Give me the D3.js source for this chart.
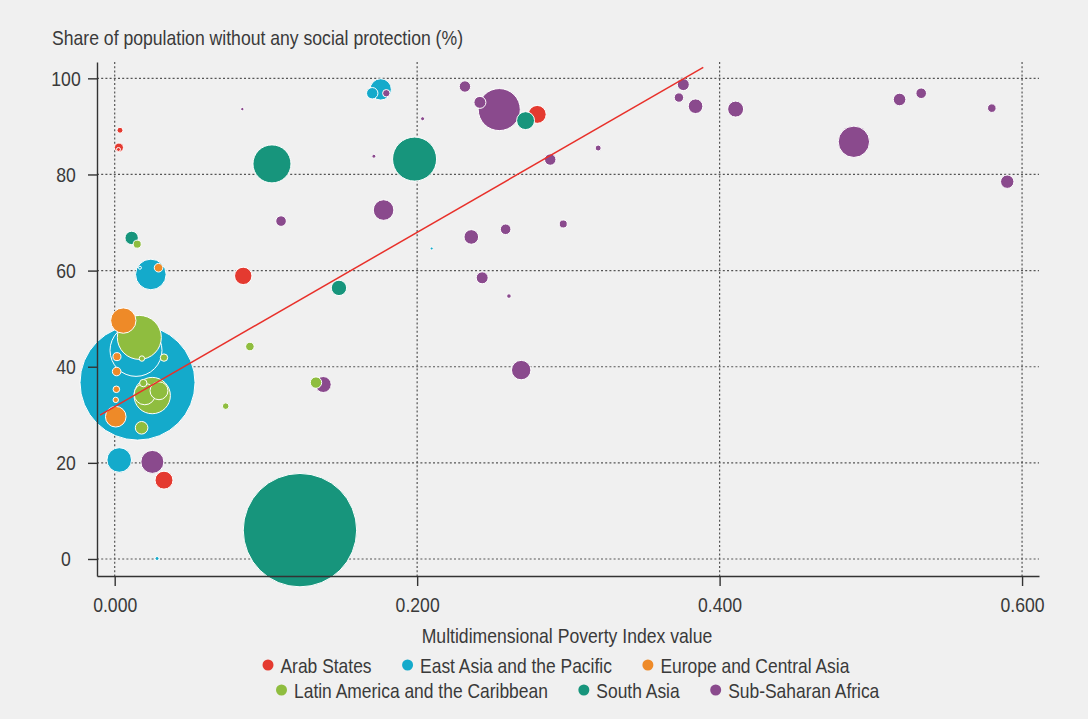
<!DOCTYPE html>
<html>
<head>
<meta charset="utf-8">
<script src="https://cdn.jsdelivr.net/npm/d3@7"></script>
<style>
  html, body { margin: 0; padding: 0; background: #f0f0f0; }
  svg { display: block; }
  text { font-family: "Liberation Sans", Arial, sans-serif; fill: #3a3a3a; }
</style>
</head>
<body>
<svg id="chart" width="1088" height="719"></svg>
<script>
// Each country: [MPI value, share without any social protection (%), population (millions)]
const arabStates = [
  [0.0035, 89.2, 3.8], [0.0028, 85.6, 8.6], [0.0025, 85.2, 1.7],
  [0.085, 58.9, 32], [0.2794, 92.5, 34], [0.0326, 16.4, 34]
];
const eastAsiaPacific = [
  [0.0151, 36.7, 1400], [0.0141, 43.4, 286], [0.0239, 59.2, 99],
  [0.0167, 60.6, 0.95], [0.003, 20.6, 64], [0.1759, 97.7, 48],
  [0.1703, 96.9, 13.8], [0.028, 0.1, 1.7], [0.2096, 64.6, 0.95]
];
const europeCentralAsia = [
  [0.0057, 49.6, 68], [0.029, 60.6, 7.8], [0.0015, 42.1, 6.8],
  [0.0013, 39.0, 7.8], [0.0011, 35.3, 4.6], [0.0007, 33.1, 3.1],
  [0.0007, 29.6, 45]
];
const latinAmericaCaribbean = [
  [0.0163, 46.1, 205], [0.018, 41.7, 3.1], [0.0326, 41.9, 5.8],
  [0.0248, 34.0, 140], [0.0199, 34.3, 48], [0.0293, 35.0, 34],
  [0.0189, 36.6, 5.8], [0.0178, 27.3, 16.8], [0.0149, 65.5, 6.8],
  [0.0894, 44.2, 7.8], [0.0734, 31.8, 4.6], [0.1331, 36.7, 13.8]
];
const southAsia = [
  [0.1225, 6.0, 1361], [0.104, 82.2, 153], [0.1983, 83.2, 205],
  [0.1483, 56.4, 25], [0.2717, 91.2, 34], [0.0112, 66.8, 19]
];
const subSaharanAfrica = [
  [0.2543, 93.5, 187], [0.2415, 95.0, 15.2], [0.2316, 98.3, 13.8],
  [0.2036, 91.6, 1.7], [0.288, 83.1, 13.8], [0.3197, 85.5, 3.8],
  [0.2966, 69.7, 6.8], [0.2585, 68.6, 11.9], [0.2358, 67.0, 22.6],
  [0.243, 58.5, 15.2], [0.2607, 54.7, 2.2], [0.2688, 39.3, 40],
  [0.1778, 72.6, 45], [0.110, 70.3, 11.9], [0.1714, 83.8, 1.7],
  [0.0844, 93.6, 1.2], [0.1796, 96.9, 5.8], [0.0249, 20.2, 56],
  [0.1379, 36.3, 27], [0.376, 98.7, 15.2], [0.3731, 96.0, 9.4],
  [0.3841, 94.2, 22.6], [0.4106, 93.6, 27], [0.4888, 86.8, 104],
  [0.519, 95.6, 16.8], [0.5333, 96.9, 11.9], [0.58, 93.8, 7.8],
  [0.5902, 78.5, 19]
];

const regionNames = [
  "Arab States", "East Asia and the Pacific", "Europe and Central Asia",
  "Latin America and the Caribbean", "South Asia", "Sub-Saharan Africa"
];
const regionColors = ["#e43a30", "#14aacb", "#ee8a28", "#8fbd3f", "#17957c", "#8a4a8d"];
const regionData = [arabStates, eastAsiaPacific, europeCentralAsia,
                    latinAmericaCaribbean, southAsia, subSaharanAfrica];

const xTicks = [0, 0.2, 0.4, 0.6];
const yTicks = [0, 20, 40, 60, 80, 100];

// Linear fit of share on MPI, drawn over its fitted span
const fitIntercept = 31.7;
const fitSlope = 181.3;
const fitSpan = [-0.0097, 0.3892];

const svg = d3.select("#chart");
const plot = { left: 97, right: 1039, top: 62, bottom: 576 };
const fontSize = 21;
const yTitle = "Share of population without any social protection (%)";
const yTitleWidth = 411;   // the narrow face is emulated by compressing glyphs

const x = d3.scaleLinear().domain([-0.0117, 0.6112]).range([plot.left, plot.right]);
const y = d3.scaleLinear().domain([-3.54, 103.4]).range([plot.bottom, plot.top]);
const r = d3.scaleSqrt().domain([0, 1400]).range([0, 57.5]);

// Dotted grid
const grid = svg.append("g").attr("stroke", "#555").attr("stroke-width", 1.2)
  .attr("stroke-dasharray", "2,2.2");
grid.selectAll("line.h").data(yTicks).join("line").attr("class", "h")
  .attr("x1", plot.left).attr("x2", plot.right)
  .attr("y1", d => y(d)).attr("y2", d => y(d));
grid.selectAll("line.v").data(xTicks).join("line").attr("class", "v")
  .attr("y1", plot.top).attr("y2", plot.bottom)
  .attr("x1", d => x(d)).attr("x2", d => x(d));

// Bubbles, largest first so small ones stay visible
const points = [];
regionData.forEach((arr, i) => arr.forEach(d => points.push({mpi: d[0], share: d[1], pop: d[2], region: i})));
points.sort((a, b) => b.pop - a.pop);

svg.append("g").selectAll("circle").data(points).join("circle")
  .attr("cx", d => x(d.mpi))
  .attr("cy", d => y(d.share))
  .attr("r", d => r(d.pop))
  .attr("fill", d => regionColors[d.region])
  .attr("stroke", "#fff")
  .attr("stroke-width", 1);

// Y title first, to derive the horizontal compression for all text
const title = svg.append("text").attr("x", 52).attr("y", 45).attr("font-size", fontSize).text(yTitle);
const squeeze = yTitleWidth / title.node().getComputedTextLength();
function condense(sel, extra = 1) {
  sel.each(function () {
    const w = this.getComputedTextLength();
    d3.select(this).attr("textLength", w * squeeze * extra).attr("lengthAdjust", "spacingAndGlyphs");
  });
}
condense(title);

// Axes
const xAxis = d3.axisBottom(x).tickValues(xTicks).tickFormat(d3.format(".3f"))
  .tickSizeInner(10).tickSizeOuter(0).tickPadding(11);
const gx = svg.append("g").attr("transform", `translate(0,${plot.bottom})`).call(xAxis);
gx.select(".domain").attr("stroke", "#333").attr("stroke-width", 1.4);
gx.selectAll(".tick line").attr("stroke", "#333").attr("stroke-width", 1.4);
gx.selectAll(".tick text").attr("font-size", fontSize).attr("fill", "#3a3a3a")
  .call(condense);

const yAxis = d3.axisLeft(y).tickValues(yTicks).tickSizeInner(9).tickSizeOuter(0).tickPadding(4);
const gy = svg.append("g").attr("transform", `translate(${plot.left},0)`).call(yAxis);
gy.select(".domain").attr("stroke", "#333").attr("stroke-width", 1.4);
gy.selectAll(".tick line").attr("stroke", "#333").attr("stroke-width", 1.4);
gy.selectAll(".tick text").attr("font-size", fontSize).attr("fill", "#3a3a3a")
  .attr("text-anchor", "middle").attr("x", -31).call(condense);
gx.attr("font-family", null);
gy.attr("font-family", null);

// Regression line
svg.append("line")
  .attr("x1", x(fitSpan[0])).attr("y1", y(fitIntercept + fitSlope * fitSpan[0]))
  .attr("x2", x(fitSpan[1])).attr("y2", y(fitIntercept + fitSlope * fitSpan[1]))
  .attr("stroke", "#e8302a").attr("stroke-width", 1.5);

// X title
svg.append("text").attr("x", 567).attr("y", 643).attr("font-size", fontSize)
  .attr("text-anchor", "middle").text("Multidimensional Poverty Index value").call(condense);

// Legend in two rows
const legendRows = [[0, 1, 2], [3, 4, 5]];
const rowStart = [268, 281.5];
const rowY = [665, 690];
legendRows.forEach((row, ri) => {
  let cx = rowStart[ri];
  row.forEach(idx => {
    const g = svg.append("g");
    g.append("circle").attr("cx", cx).attr("cy", rowY[ri]).attr("r", 5.5)
      .attr("fill", regionColors[idx]);
    const t = g.append("text").attr("x", cx + 12.5).attr("y", rowY[ri] + 7.5)
      .attr("font-size", fontSize).text(regionNames[idx]).call(condense, 0.99);
    const w = +t.attr("textLength");
    cx += 12.5 + w + 36;
  });
});
</script>
</body>
</html>
